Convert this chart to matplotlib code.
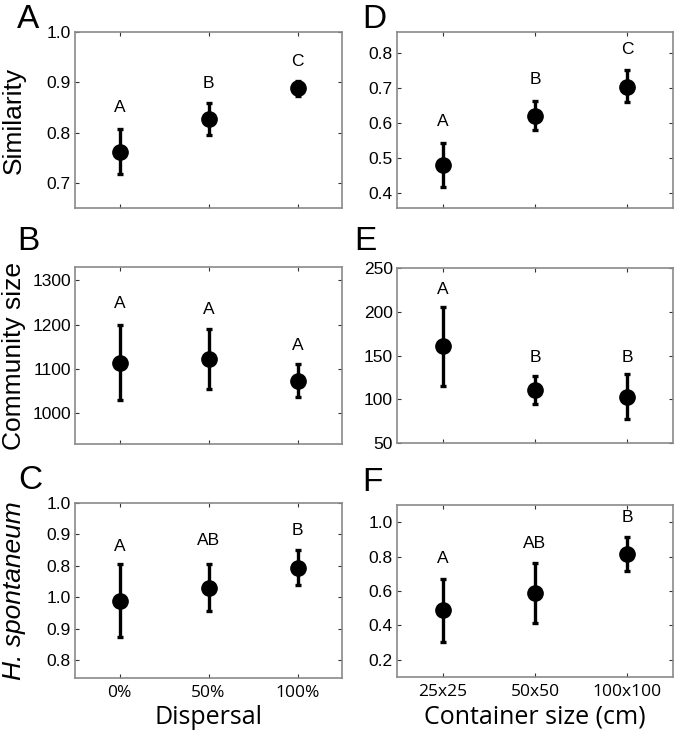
import matplotlib.pyplot as plt
import numpy as np

# data
dispersal = ["0%", "50%", "100%"]
container = ["25x25", "50x50", "100x100"]

sim_disp = [0.762, 0.827, 0.888]
sim_disp_lo = [0.717, 0.795, 0.873]
sim_disp_hi = [0.808, 0.858, 0.903]
sim_disp_let = ["A", "B", "C"]
sim_disp_let_y = [0.849, 0.897, 0.941]

com_disp = [1114, 1121, 1073]
com_disp_lo = [1030, 1054, 1036]
com_disp_hi = [1199, 1189, 1110]
com_disp_let = ["A", "A", "A"]
com_disp_let_y = [1248, 1234, 1152]

hs_disp = [0.689, 0.730, 0.794]
hs_disp_lo = [0.574, 0.656, 0.740]
hs_disp_hi = [0.806, 0.805, 0.849]
hs_disp_let = ["A", "AB", "B"]
hs_disp_let_y = [0.863, 0.882, 0.912]
hs_disp_ticklabels = ["0.8", "0.9", "1.0", "0.8", "0.9", "1.0"]  # as printed in the original

sim_cont = [0.480, 0.621, 0.702]
sim_cont_lo = [0.418, 0.580, 0.660]
sim_cont_hi = [0.542, 0.663, 0.750]
sim_cont_let = ["A", "B", "C"]
sim_cont_let_y = [0.604, 0.723, 0.810]

com_cont = [161, 111, 103]
com_cont_lo = [115, 95, 78]
com_cont_hi = [206, 127, 129]
com_cont_let = ["A", "B", "B"]
com_cont_let_y = [225, 148, 148]

hs_cont = [0.487, 0.589, 0.813]
hs_cont_lo = [0.306, 0.416, 0.714]
hs_cont_hi = [0.672, 0.762, 0.913]
hs_cont_let = ["A", "AB", "B"]
hs_cont_let_y = [0.788, 0.875, 1.025]

plt.rcParams['font.family'] = ['Liberation Sans', 'DejaVu Sans']
segoe = ['Open Sans', 'DejaVu Sans']

W, H = 680, 733
fig = plt.figure(figsize=(W / 100, H / 100), dpi=100)


def box(x0, y0, x1, y1):
    return [x0 / W, 1 - y1 / H, (x1 - x0) / W, (y1 - y0) / H]


def panel(rect, vals, lo, hi, lets, lets_y, ylim, yticks, letter, lx, ly):
    ax = fig.add_axes(rect)
    x = np.arange(1, 4)
    vals = np.array(vals)
    err = [vals - np.array(lo), np.array(hi) - vals]
    ax.errorbar(x, vals, yerr=err, fmt='o', color='black', ms=11,
                elinewidth=2.4, capsize=2.2, capthick=2.4)
    for xi, t, ty in zip(x, lets, lets_y):
        ax.text(xi, ty, t, ha='center', va='center', fontsize=12.5)
    ax.set_xlim(0.5, 3.5)
    ax.set_ylim(*ylim)
    ax.set_yticks(yticks)
    ax.set_xticks(x)
    ax.tick_params(direction='in', length=3, width=0.8, top=True, right=True,
                   labelsize=12.5, color='#333333', pad=3)
    for s in ax.spines.values():
        s.set_color('#8a8a8a')
        s.set_linewidth(1.2)
    # panel letter, placed in figure pixels (top-left of glyph)
    fig.text(lx / W, 1 - ly / H, letter, fontsize=24, ha='left', va='top')
    return ax


# left column: dispersal
axA = panel(box(75, 32, 342, 208), sim_disp, sim_disp_lo, sim_disp_hi,
            sim_disp_let, sim_disp_let_y, (0.65, 1.0), [0.7, 0.8, 0.9, 1.0], "A", 17, 4)
axA.set_yticklabels(["0.7", "0.8", "0.9", "1.0"])
axA.set_xticklabels([])
axA.set_ylabel("Similarity", fontsize=19)
axA.yaxis.set_label_coords(-0.185, 0.5)

axB = panel(box(75, 267, 342, 444), com_disp, com_disp_lo, com_disp_hi,
            com_disp_let, com_disp_let_y, (930, 1330), [1000, 1100, 1200, 1300], "B", 17, 226)
axB.set_xticklabels([])
axB.set_ylabel("Community size", fontsize=19)
axB.yaxis.set_label_coords(-0.185, 0.5)

axC = panel(box(75, 503, 342, 678), hs_disp, hs_disp_lo, hs_disp_hi,
            hs_disp_let, hs_disp_let_y, (0.443, 1.0), [0.5, 0.6, 0.7, 0.8, 0.9, 1.0], "C", 18, 465)
axC.set_yticklabels(hs_disp_ticklabels)
axC.set_xticklabels(dispersal, family=segoe, fontsize=12.5)
axC.tick_params(axis='x', pad=5)
axC.set_ylabel("H. spontaneum", fontsize=19, style='italic')
axC.yaxis.set_label_coords(-0.185, 0.5)
axC.set_xlabel("Dispersal", fontsize=18, family=segoe, labelpad=3)

# right column: container size
axD = panel(box(397, 32, 673, 208), sim_cont, sim_cont_lo, sim_cont_hi,
            sim_cont_let, sim_cont_let_y, (0.357, 0.86), [0.4, 0.5, 0.6, 0.7, 0.8], "D", 362, 4)
axD.set_xticklabels([])

axE = panel(box(397, 268, 673, 443), com_cont, com_cont_lo, com_cont_hi,
            com_cont_let, com_cont_let_y, (50, 250), [50, 100, 150, 200, 250], "E", 354, 226)
axE.set_xticklabels([])

axF = panel(box(397, 505, 673, 677), hs_cont, hs_cont_lo, hs_cont_hi,
            hs_cont_let, hs_cont_let_y, (0.1, 1.1), [0.2, 0.4, 0.6, 0.8, 1.0], "F", 362, 467)
axF.set_xticklabels(container, family=segoe, fontsize=12.5)
axF.tick_params(axis='x', pad=5)
axF.set_xlabel("Container size (cm)", fontsize=18, family=segoe, labelpad=3)

fig.savefig("out.png", dpi=100)
